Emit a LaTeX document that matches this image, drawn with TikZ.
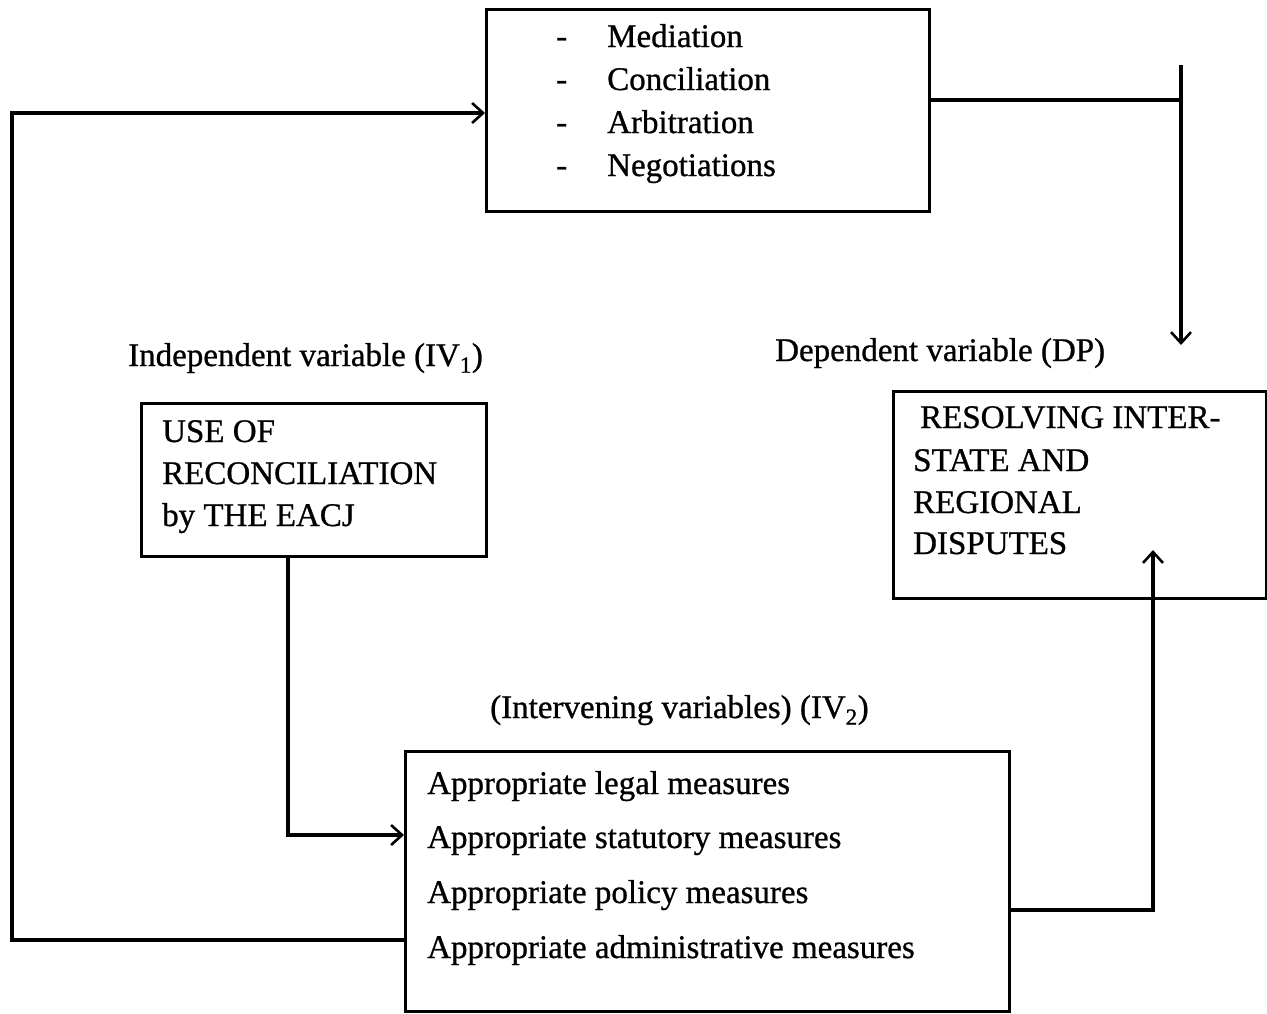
\documentclass[tikz,border=0pt]{standalone}
\usepackage{fontspec}
\setmainfont[FakeBold=0.8]{Liberation Serif}
\usetikzlibrary{arrows.meta}
\begin{document}
\begin{tikzpicture}[x=1pt,y=-1pt,
  box/.style={draw,line width=3pt,inner sep=0pt,anchor=north west},
  txt/.style={anchor=base west,inner sep=0pt,font=\fontsize{33}{40}\selectfont},
  conn/.style={line width=3.2pt},
  arr/.style={conn,-{Straight Barb[length=11pt,width=20pt,line width=2.6pt]}}]
\useasboundingbox (0,0) rectangle (1267,1013);
% boxes
\node[box,minimum width=443pt,minimum height=202pt] (top) at (485,8) {};
\node[box,minimum width=345pt,minimum height=153pt] (iv1) at (140,402) {};
\node[box,minimum width=373pt,minimum height=207pt] (dp) at (892,390) {};
\node[box,minimum width=604pt,minimum height=260pt] (bot) at (404,750) {};
% top box text
\foreach \t/\y [count=\i] in {Mediation/47,Conciliation/90,Arbitration/133,Negotiations/176}{
  \node[txt] (dash\i) at (556,\y) {-};
  \node[txt] (m\i) at (607,\y) {\t};
}
% labels
\node[txt] (liv1) at (128,366) {Independent variable (IV\textsubscript{1})};
\node[txt] (ldp) at (775,361) {Dependent variable (DP)};
\node[txt] (liv2) at (490,718) {(Intervening variables) (IV\textsubscript{2})};
% IV1 text
\node[txt] (a1) at (162,442) {USE OF};
\node[txt] (a2) at (162,484) {RECONCILIATION};
\node[txt] (a3) at (162,526) {by THE EACJ};
% DP text
\node[txt] (d1) at (920,428) {RESOLVING INTER-};
\node[txt] (d2) at (913,471) {STATE AND};
\node[txt] (d3) at (913,513) {REGIONAL};
\node[txt] (d4) at (913,554) {DISPUTES};
% bottom box text
\node[txt] (b1) at (427,794) {Appropriate legal measures};
\node[txt] (b2) at (427,848) {Appropriate statutory measures};
\node[txt] (b3) at (427,903) {Appropriate policy measures};
\node[txt] (b4) at (427,958) {Appropriate administrative measures};
% connectors
\coordinate (jtop) at (1181,65);
\coordinate (jdown) at (1181,345);
\coordinate (upend) at (1153,550);
\draw[arr] (bot.west |- 0,940) -- (12,940) -- (12,113) -- (top.west |- 0,113);
\draw[conn] (top.east |- 0,100) -- (jtop |- 0,100);
\draw[arr] (jtop) -- (jdown);
\draw[arr] (iv1.south -| 288,0) -- (288,835) -- (bot.west |- 0,835);
\draw[arr] (bot.east |- 0,910) -- (upend |- 0,910) -- (upend);
\end{tikzpicture}
\end{document}
